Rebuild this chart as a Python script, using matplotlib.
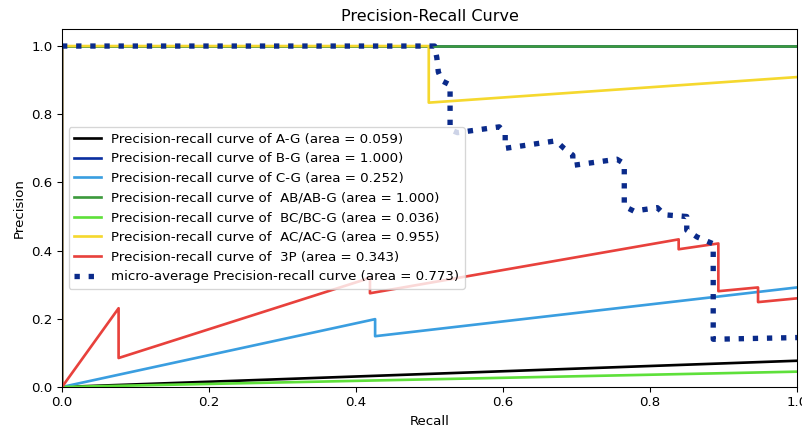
import matplotlib
matplotlib.use("Agg")
import matplotlib.pyplot as plt

names = ["A-G", "B-G", "C-G", " AB/AB-G", " BC/BC-G", " AC/AC-G", " 3P"]
areas = [0.059, 1.000, 0.252, 1.000, 0.036, 0.955, 0.343]
colors = ["black", "#0b2fa0", "#3a9ee0", "#3c9a3c", "#5ee03a", "#f5d82e", "#e8413c"]

recall_ag = [0.0, 0.0, 1.0]
prec_ag = [1.0, 0.0, 0.077]

recall_bg = [0.0, 1.0]
prec_bg = [1.0, 1.0]

recall_cg = [0.0, 0.0, 0.426, 0.426, 1.0]
prec_cg = [1.0, 0.0, 0.199, 0.149, 0.292]

recall_ab = [0.0, 1.0]
prec_ab = [1.0, 1.0]

recall_bc = [0.0, 0.0, 1.0]
prec_bc = [1.0, 0.0, 0.045]

recall_ac = [0.0, 0.499, 0.499, 1.0]
prec_ac = [1.0, 1.0, 0.834, 0.909]

recall_3p = [0.0, 0.0, 0.077, 0.077, 0.419, 0.419, 0.839, 0.839, 0.893, 0.893, 0.947, 0.947, 1.0]
prec_3p = [1.0, 0.0, 0.231, 0.085, 0.32, 0.275, 0.433, 0.404, 0.421, 0.281, 0.292, 0.249, 0.26]

recall_micro = [0.0, 0.507, 0.510, 0.512, 0.517, 0.528, 0.528, 0.538, 0.595, 0.603, 0.603,
                0.672, 0.683, 0.695, 0.695, 0.755, 0.765, 0.765, 0.778, 0.810, 0.820, 0.850,
                0.850, 0.864, 0.886, 0.886, 1.0]
prec_micro = [1.0, 1.0, 0.965, 0.924, 0.898, 0.886, 0.755, 0.746, 0.763, 0.745, 0.70,
              0.722, 0.70, 0.68, 0.65, 0.668, 0.655, 0.53, 0.516, 0.526, 0.505, 0.50,
              0.46, 0.44, 0.42, 0.14, 0.145]
area_micro = 0.773

curves = [(recall_ag, prec_ag), (recall_bg, prec_bg), (recall_cg, prec_cg),
          (recall_ab, prec_ab), (recall_bc, prec_bc), (recall_ac, prec_ac),
          (recall_3p, prec_3p)]

DPI = 96
fig = plt.figure(figsize=(802/DPI, 429/DPI), dpi=DPI)
ax = fig.add_axes([62/802, 1-387/429, (797-62)/802, (387-29)/429])

for (r, p), name, a, c in zip(curves, names, areas, colors):
    ax.plot(r, p, color=c, lw=2,
            label="Precision-recall curve of {0} (area = {1:0.3f})".format(name, a))

ax.plot(recall_micro, prec_micro, color="#0a2a8a", linestyle=":", lw=4,
        label="micro-average Precision-recall curve (area = {0:0.3f})".format(area_micro))

ax.set_xlim(0.0, 1.0)
ax.set_ylim(0.0, 1.05)
ax.set_xlabel("Recall")
ax.set_ylabel("Precision")
ax.set_title("Precision-Recall Curve")
ax.legend(loc="center left")

fig.savefig("out.png", dpi=DPI)
